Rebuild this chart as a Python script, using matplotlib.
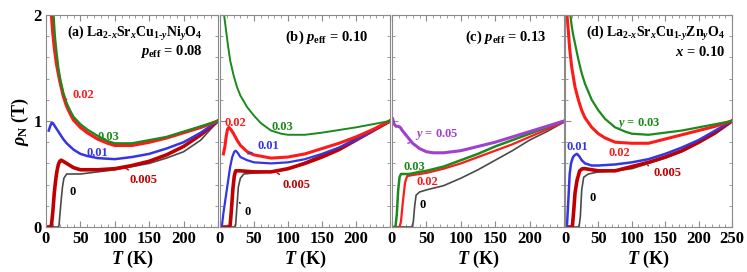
import matplotlib
matplotlib.use('Agg')
import matplotlib.pyplot as plt
from matplotlib.ticker import MultipleLocator

plt.rcParams['font.family'] = ['Liberation Serif', 'DejaVu Serif']
plt.rcParams['font.weight'] = 'bold'
plt.rcParams['axes.labelweight'] = 'bold'
plt.rcParams['mathtext.fontset'] = 'custom'
plt.rcParams['mathtext.rm'] = 'Liberation Serif:bold'
plt.rcParams['mathtext.it'] = 'Liberation Serif:italic:bold'
plt.rcParams['mathtext.bf'] = 'Liberation Serif:bold'

GREEN = '#1b8a1b'
RED = '#ff1a1a'
DARKRED = '#c00000'
BLUE = '#3535e6'
GREY = '#4a4a4a'
PURPLE = '#a040d0'

# (a) Ni, p_eff = 0.08
a_y0_T = [0, 18, 19, 20, 22, 24, 26, 30, 50, 75, 100, 125, 150, 175, 200, 225, 250]
a_y0_r = [0, 0, 0.02, 0.10, 0.25, 0.38, 0.46, 0.50, 0.50, 0.52, 0.54, 0.57, 0.60, 0.65, 0.71, 0.82, 1.0]
a_y005_T = [2, 7, 8, 10, 12, 14, 16, 18, 20, 22, 25, 30, 40, 50, 75, 100, 125, 150, 175, 200, 225, 250]
a_y005_r = [0, 0, 0.02, 0.15, 0.32, 0.44, 0.53, 0.59, 0.62, 0.63, 0.62, 0.60, 0.56, 0.54, 0.54, 0.55, 0.58, 0.62, 0.68, 0.76, 0.87, 1.0]
a_y01_T = [4, 6, 8, 10, 12, 15, 20, 25, 30, 40, 50, 60, 75, 100, 125, 150, 175, 200, 225, 250]
a_y01_r = [0.91, 0.95, 0.98, 0.98, 0.96, 0.93, 0.88, 0.83, 0.79, 0.73, 0.69, 0.67, 0.65, 0.64, 0.66, 0.69, 0.74, 0.80, 0.89, 1.0]
a_y02_T = [8, 10, 12, 15, 20, 25, 30, 35, 40, 50, 60, 75, 90, 100, 125, 150, 175, 200, 225, 250]
a_y02_r = [2.0, 1.83, 1.70, 1.55, 1.38, 1.24, 1.14, 1.07, 1.01, 0.94, 0.89, 0.83, 0.79, 0.77, 0.77, 0.80, 0.84, 0.89, 0.94, 1.0]
a_y03_T = [11, 13, 15, 18, 20, 25, 30, 35, 40, 50, 60, 75, 90, 100, 125, 150, 175, 200, 225, 250]
a_y03_r = [2.0, 1.80, 1.67, 1.50, 1.42, 1.27, 1.17, 1.10, 1.04, 0.97, 0.92, 0.86, 0.81, 0.79, 0.79, 0.82, 0.85, 0.90, 0.95, 1.0]

# (b) p_eff = 0.10
b_y0_T = [0, 22, 23, 25, 27, 30, 35, 50, 75, 100, 125, 150, 175, 200, 225, 250]
b_y0_r = [0, 0, 0.02, 0.20, 0.38, 0.46, 0.50, 0.51, 0.52, 0.55, 0.61, 0.68, 0.75, 0.84, 0.92, 1.0]
b_y005_T = [5, 14, 15, 17, 19, 21, 23, 30, 50, 75, 100, 125, 150, 175, 200, 225, 250]
b_y005_r = [0, 0, 0.02, 0.18, 0.36, 0.48, 0.53, 0.53, 0.52, 0.52, 0.55, 0.60, 0.66, 0.73, 0.82, 0.91, 1.0]
b_y01_T = [0, 3, 5, 10, 15, 18, 21, 23, 26, 30, 40, 50, 75, 100, 125, 150, 175, 200, 225, 250]
b_y01_r = [0, 0.02, 0.13, 0.35, 0.57, 0.66, 0.71, 0.72, 0.70, 0.66, 0.63, 0.61, 0.60, 0.61, 0.64, 0.69, 0.75, 0.82, 0.91, 1.0]
b_y02_T = [5, 7, 9, 11, 13, 16, 20, 25, 30, 40, 50, 75, 100, 125, 150, 175, 200, 225, 250]
b_y02_r = [0.69, 0.75, 0.85, 0.92, 0.94, 0.92, 0.88, 0.82, 0.77, 0.71, 0.68, 0.65, 0.66, 0.69, 0.74, 0.79, 0.85, 0.92, 1.0]
b_y03_T = [6, 8, 10, 12, 15, 20, 25, 30, 40, 50, 60, 75, 90, 100, 125, 150, 200, 250]
b_y03_r = [2.0, 1.90, 1.80, 1.70, 1.57, 1.43, 1.32, 1.24, 1.13, 1.05, 0.98, 0.91, 0.88, 0.87, 0.87, 0.89, 0.94, 1.0]

# (c) p_eff = 0.13
c_y0_T = [0, 29, 31, 33, 35, 40, 50, 75, 100, 125, 150, 175, 200, 225, 250]
c_y0_r = [0, 0, 0.05, 0.20, 0.30, 0.33, 0.35, 0.39, 0.46, 0.54, 0.63, 0.72, 0.82, 0.90, 0.99]
c_y02_T = [0, 11, 13, 16, 19, 22, 30, 50, 75, 100, 125, 150, 175, 200, 225, 250]
c_y02_r = [0, 0, 0.05, 0.25, 0.42, 0.48, 0.49, 0.51, 0.55, 0.60, 0.66, 0.72, 0.78, 0.85, 0.92, 0.99]
c_y03_T = [0, 5, 7, 9, 11, 13, 25, 40, 50, 75, 100, 125, 150, 175, 200, 225, 250]
c_y03_r = [0, 0, 0.12, 0.35, 0.47, 0.50, 0.50, 0.52, 0.53, 0.57, 0.63, 0.69, 0.76, 0.82, 0.88, 0.94, 1.0]
c_y05_T = [1, 3, 6, 9, 12, 15, 20, 25, 30, 40, 50, 60, 75, 100, 125, 150, 175, 200, 225, 250]
c_y05_r = [1.02, 0.97, 0.95, 0.95, 0.94, 0.91, 0.87, 0.83, 0.79, 0.74, 0.71, 0.70, 0.70, 0.72, 0.76, 0.80, 0.85, 0.90, 0.95, 1.0]

# (d) Zn, x = 0.10
d_y0_T = [0, 21, 23, 25, 28, 35, 50, 75, 100, 125, 150, 175, 200, 225, 250]
d_y0_r = [0, 0, 0.10, 0.35, 0.47, 0.50, 0.52, 0.53, 0.55, 0.60, 0.65, 0.71, 0.79, 0.88, 1.0]
d_y005_T = [5, 11, 13, 15, 18, 22, 26, 30, 50, 75, 100, 125, 150, 175, 200, 225, 250]
d_y005_r = [0, 0, 0.15, 0.32, 0.44, 0.53, 0.55, 0.55, 0.53, 0.53, 0.57, 0.61, 0.66, 0.72, 0.80, 0.89, 1.0]
d_y01_T = [0, 3, 5, 7, 9, 12, 15, 18, 21, 25, 30, 40, 50, 75, 100, 125, 150, 175, 200, 225, 250]
d_y01_r = [0, 0.02, 0.25, 0.50, 0.60, 0.66, 0.68, 0.69, 0.67, 0.63, 0.60, 0.58, 0.58, 0.59, 0.61, 0.64, 0.69, 0.75, 0.82, 0.91, 1.0]
d_y02_T = [3, 5, 7, 10, 15, 20, 25, 30, 40, 50, 60, 75, 100, 125, 150, 175, 200, 225, 250]
d_y02_r = [2.0, 1.85, 1.68, 1.51, 1.32, 1.20, 1.10, 1.03, 0.94, 0.88, 0.84, 0.80, 0.79, 0.79, 0.83, 0.87, 0.91, 0.95, 1.0]
d_y03_T = [8, 10, 12, 15, 20, 25, 30, 40, 50, 60, 75, 90, 100, 125, 150, 175, 200, 225, 250]
d_y03_r = [2.0, 1.90, 1.82, 1.73, 1.58, 1.45, 1.35, 1.20, 1.10, 1.02, 0.94, 0.90, 0.88, 0.87, 0.89, 0.91, 0.94, 0.97, 1.0]

fig = plt.figure(figsize=(7.47, 2.72), dpi=100)
W, H = 747.0, 272.0
bot, top = 227, 15
lefts = [46, 220, 392, 565]
widths = [172, 170, 172, 167]
axes = [fig.add_axes([l / W, (H - bot) / H, w / W, (bot - top) / H])
        for l, w in zip(lefts, widths)]

SPINE = '#8a8a8a'
for i, ax in enumerate(axes):
    ax.set_xlim(0, 250)
    ax.set_ylim(0, 2)
    ax.xaxis.set_major_locator(MultipleLocator(50))
    ax.xaxis.set_minor_locator(MultipleLocator(10))
    ax.yaxis.set_major_locator(MultipleLocator(1))
    ax.yaxis.set_minor_locator(MultipleLocator(0.2))
    ax.tick_params(which='both', direction='in', top=True, right=True,
                   color=SPINE, labelsize=12, pad=3)
    ax.tick_params(which='major', length=4)
    ax.tick_params(which='minor', length=2)
    for s in ax.spines.values():
        s.set_color(SPINE)
    if i < 3:
        ax.set_xticks([0, 50, 100, 150, 200, 250])
        ax.set_xticklabels(['0', '50', '100', '150', '200', ''])
    if i == 0:
        ax.set_yticks([0, 1, 2])
        ax.set_yticklabels(['0', '1', '2'])
        ax.set_ylabel(r'$\rho_{\rm N}$ (T)', fontsize=13, labelpad=2)
    else:
        ax.set_yticklabels([])
    ax.set_xlabel(r'$T$ (K)', fontsize=13, labelpad=1)

ax = axes[0]
ax.plot(a_y0_T, a_y0_r, color=GREY, lw=1.2)
ax.plot(a_y005_T, a_y005_r, color=DARKRED, lw=2.6)
ax.plot(a_y01_T, a_y01_r, color=BLUE, lw=1.8)
ax.plot(a_y02_T, a_y02_r, color=RED, lw=2.4)
ax.plot(a_y03_T, a_y03_r, color=GREEN, lw=1.6)
ax.text(0.91, 0.915, r'(a) La$_{2\text{-}x}$Sr$_x$Cu$_{1\text{-}y}$Ni$_y$O$_4$',
        transform=ax.transAxes, ha='right', va='center', fontsize=10)
ax.text(0.91, 0.83, r'$p_{\rm eff}$ = 0.08', transform=ax.transAxes,
        ha='right', va='center', fontsize=10.5)
ax.annotate('0.02', xy=(27, 1.2), xytext=(54, 1.25), color=RED, fontsize=9,
            ha='center', va='center', arrowprops=dict(arrowstyle='-', color=RED, lw=1))
ax.text(90, 0.85, '0.03', color=GREEN, fontsize=9, ha='center', va='center')
ax.text(74, 0.70, '0.01', color=BLUE, fontsize=9, ha='center', va='center')
ax.annotate('0.005', xy=(115, 0.56), xytext=(141, 0.44), color=DARKRED, fontsize=9,
            ha='center', va='center',
            arrowprops=dict(arrowstyle='-', color=DARKRED, lw=1, shrinkB=0))
ax.text(39, 0.33, '0', color='black', fontsize=9, ha='center', va='center')

ax = axes[1]
ax.plot(b_y0_T, b_y0_r, color=GREY, lw=1.2)
ax.plot(b_y005_T, b_y005_r, color=DARKRED, lw=2.6)
ax.plot(b_y01_T, b_y01_r, color=BLUE, lw=1.6)
ax.plot(b_y02_T, b_y02_r, color=RED, lw=2.2)
ax.plot(b_y03_T, b_y03_r, color=GREEN, lw=1.4)
ax.text(0.87, 0.896, r'(b) $p_{\rm eff}$ = 0.10', transform=ax.transAxes,
        ha='right', va='center', fontsize=10.5)
ax.text(22, 0.98, '0.02', color=RED, fontsize=9, ha='center', va='center')
ax.text(91, 0.94, '0.03', color=GREEN, fontsize=9, ha='center', va='center')
ax.annotate('0.01', xy=(37, 0.68), xytext=(71, 0.76), color=BLUE, fontsize=9,
            ha='center', va='center', arrowprops=dict(arrowstyle='-', color=BLUE, lw=1))
ax.annotate('0.005', xy=(84, 0.51), xytext=(112, 0.40), color=DARKRED, fontsize=9,
            ha='center', va='center', arrowprops=dict(arrowstyle='-', color=DARKRED, lw=1))
ax.annotate('0', xy=(26, 0.25), xytext=(41, 0.14), color='black', fontsize=9,
            ha='center', va='center', arrowprops=dict(arrowstyle='-', color='black', lw=1))

ax = axes[2]
ax.plot(c_y0_T, c_y0_r, color=GREY, lw=1.2)
ax.plot(c_y02_T, c_y02_r, color=RED, lw=1.6)
ax.plot(c_y03_T, c_y03_r, color=GREEN, lw=1.8)
ax.plot(c_y05_T, c_y05_r, color=PURPLE, lw=2.2)
ax.text(0.90, 0.896, r'(c) $p_{\rm eff}$ = 0.13', transform=ax.transAxes,
        ha='right', va='center', fontsize=10.5)
ax.annotate(r'$y$ = 0.05', xy=(23, 0.79), xytext=(34, 0.87), color=PURPLE, fontsize=9,
            ha='left', va='center', arrowprops=dict(arrowstyle='-', color=PURPLE, lw=1))
ax.text(33, 0.57, '0.03', color=GREEN, fontsize=9, ha='center', va='center')
ax.text(51, 0.42, '0.02', color=RED, fontsize=9, ha='center', va='center')
ax.text(45, 0.21, '0', color='black', fontsize=9, ha='center', va='center')

ax = axes[3]
ax.plot(d_y0_T, d_y0_r, color=GREY, lw=1.2)
ax.plot(d_y005_T, d_y005_r, color=DARKRED, lw=2.6)
ax.plot(d_y01_T, d_y01_r, color=BLUE, lw=1.8)
ax.plot(d_y02_T, d_y02_r, color=RED, lw=2.2)
ax.plot(d_y03_T, d_y03_r, color=GREEN, lw=1.6)
ax.text(0.958, 0.915, r'(d) La$_{2\text{-}x}$Sr$_x$Cu$_{1\text{-}y}$Zn$_y$O$_4$',
        transform=ax.transAxes, ha='right', va='center', fontsize=10)
ax.text(0.958, 0.825, r'$x$ = 0.10', transform=ax.transAxes,
        ha='right', va='center', fontsize=10.5)
ax.text(111, 0.98, r'$y$ = 0.03', color=GREEN, fontsize=9, ha='center', va='center')
ax.text(82, 0.70, '0.02', color=RED, fontsize=9, ha='center', va='center')
ax.text(18, 0.75, '0.01', color=BLUE, fontsize=9, ha='center', va='center')
ax.annotate('0.005', xy=(124, 0.58), xytext=(154, 0.51), color=DARKRED, fontsize=9,
            ha='center', va='center', arrowprops=dict(arrowstyle='-', color=DARKRED, lw=1))
ax.text(42, 0.27, '0', color='black', fontsize=9, ha='center', va='center')

fig.savefig('out.png', dpi=100)
